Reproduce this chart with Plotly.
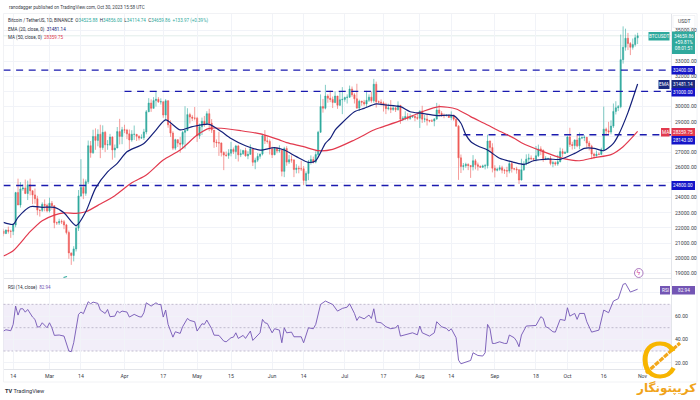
#!/usr/bin/env python3

import pandas as pd
import plotly.graph_objects as go

#######################################
###              data               ###
#######################################
opens = [
    21800, 21630, 21860, 21780, 21780, 22200, 24330, 23520, 24570, 24630, 24270, 24840, 24450, 24180, 23930, 23180, 23160, 23560, 23490,
    23130, 23630, 23470, 22350, 22340, 22430, 22410, 22200, 21700, 20360, 20190, 20620, 21990, 24110, 24670, 24280, 25050, 27420, 26960, 28030, 27770, 28170, 27300, 28300, 27480, 27490, 27990, 27140, 27270, 28350, 28030,
    28470, 28450, 28200, 27800, 28170, 28170, 28040, 27920, 27950, 28330, 29650, 30230, 29880, 30390, 30480, 30310, 30320, 29440, 30380, 28800, 28250, 27260, 27820, 27590, 27520, 28300, 28420, 29470, 29310, 29230,
    29230, 28070, 28670, 29030, 28850, 29530, 28900, 28450, 27660, 27620, 27600, 26970, 26800, 26780, 26930, 27170, 27030, 27400, 26820, 26890, 27100, 26750, 26850, 27220, 26330, 26470, 26720, 26870, 28080, 27740, 27700,
    27210, 26820, 27250, 27070, 27120, 25730, 27230, 26340, 26500, 26480, 25850, 25940, 25900, 25900, 25130, 25590, 26340, 26510, 26340, 26840, 28310, 30000, 29890, 30690, 30550, 30470, 30270, 30690, 30080, 30450,
    30470, 30590, 30620, 31150, 30770, 30510, 29900, 30350, 30290, 30170, 30410, 30620, 30380, 31470, 30320, 30290, 30230, 30140, 29860, 29910, 29800, 29910, 29790, 30080, 29170, 29230, 29350, 29210, 29320, 29360, 29270,
    29230, 29700, 29170, 29180, 29090, 29050, 29050, 29180, 29770, 29560, 29430, 29400, 29420, 29280, 29400, 29170, 28700, 26620, 26050, 26100, 26190, 26120, 26040, 26430, 26160, 26060, 26000, 26090, 26100, 27730, 27300,
    25940, 25800, 25870, 25970, 25810, 25780, 25750, 26240, 25900, 25890, 25830, 25160, 25840, 26220, 26530, 26600, 26570, 26530, 26760, 27210, 27130, 26570, 26580, 26580, 26250, 26300, 26220, 26370, 27030, 26910,
    26970, 27990, 27500, 27430, 27790, 27410, 27930, 27950, 27970, 27590, 27390, 26870, 26760, 26860, 26850, 27150, 28510, 28400, 28320, 28710, 29680, 29920, 29990, 33090, 33900, 34500, 34150, 33900, 34090, 34525.88,
]
highs = [
    21950, 21900, 22090, 21890, 22320, 24380, 25250, 25020, 24880, 25190, 25120, 25250, 24480, 24600, 24120, 23210, 23690, 23880, 23600,
    24000, 23780, 23480, 22420, 22610, 22560, 22530, 22270, 21830, 20370, 20800, 22170, 24500, 26530, 25250, 25200, 27760, 27730, 28470, 28560, 28500, 28800, 28760, 28400, 27790, 28200, 28040, 27500, 28650, 29190, 28660,
    28800, 28530, 28490, 28440, 28750, 28190, 28100, 28170, 28530, 29770, 30550, 30470, 30620, 31000, 30620, 30540, 30320, 30490, 30410, 29090, 28370, 27880, 27820, 28000, 28400, 30020, 29890, 29590, 29450, 29970,
    29320, 28880, 29270, 29380, 29690, 29850, 29170, 28450, 27830, 28330, 27630, 27050, 27040, 27190, 27670, 27300, 27480, 27480, 27180, 27150, 27280, 27060, 27500, 27220, 26630, 26930, 26900, 28200, 28450, 28050, 27830,
    27350, 27300, 27330, 27450, 27140, 27350, 27390, 26810, 26780, 26530, 26200, 26100, 26430, 26080, 25730, 26480, 26780, 26700, 27050, 28400, 30800, 30500, 31430, 30810, 31050, 30660, 31000, 30700, 31000, 31280,
    30650, 30800, 31380, 31320, 30880, 31500, 30450, 30380, 30440, 31030, 30800, 30990, 31820, 31640, 30400, 30470, 30340, 30250, 30190, 30420, 30050, 29990, 30340, 30100, 29370, 29690, 29570, 29530, 29410, 29450, 29530,
    29740, 30050, 29440, 29500, 29100, 29170, 29240, 30240, 30130, 29700, 29540, 29480, 29450, 29680, 29480, 29230, 28780, 26840, 26280, 26300, 26260, 26130, 26800, 26550, 26310, 26120, 26170, 26220, 28140, 27760, 27580,
    26130, 25970, 26130, 26100, 25900, 26030, 26440, 26430, 25950, 26030, 25880, 26560, 26400, 26850, 26890, 26780, 26620, 27400, 27490, 27380, 27160, 26730, 26620, 26740, 26430, 26390, 26820, 27290, 27230, 27080,
    28070, 28600, 27680, 27840, 28120, 28290, 28030, 28110, 27990, 27740, 27480, 26950, 27100, 26980, 27290, 30000, 28610, 28990, 29090, 30200, 30350, 30100, 34740, 35280, 35130, 34850, 34250, 34480, 34740, 34856,
]
lows = [
    21450, 21600, 21630, 21350, 21530, 22050, 23500, 23340, 24450, 24230, 23840, 24150, 23570, 23600, 22840, 22750, 23060, 23100, 23030,
    23020, 23200, 21980, 22200, 22200, 22260, 21920, 21580, 19970, 19570, 19800, 20450, 21800, 24050, 23900, 24120, 24900, 26630, 26880, 27150, 27380, 26600, 27150, 27000, 27150, 27400, 26500, 26630, 27250, 27500, 27520,
    28250, 27850, 27200, 27680, 27800, 27730, 27770, 27880, 27800, 28170, 29640, 29650, 29870, 30000, 30240, 30130, 29260, 29100, 28600, 28000, 27130, 27130, 27330, 26950, 27200, 27230, 28380, 28880, 29050, 29090,
    27670, 27870, 28120, 28670, 28800, 28380, 28260, 27280, 27330, 26750, 26710, 25810, 26690, 26560, 26720, 26870, 26550, 26380, 26670, 26820, 26700, 26530, 26820, 26080, 25870, 26340, 26560, 26780, 27530, 27560, 26840,
    26610, 26800, 26920, 26960, 25400, 25350, 26100, 26210, 26300, 25350, 25600, 25600, 25750, 24820, 24800, 25150, 26180, 26250, 26260, 26650, 28260, 29600, 29810, 30250, 30290, 29900, 30220, 29850, 30040, 29500,
    30320, 30200, 30570, 30640, 30200, 29850, 29700, 30050, 30050, 29950, 30300, 30250, 30250, 29930, 30250, 30070, 29670, 29500, 29750, 29570, 29720, 29640, 29740, 28860, 29050, 29100, 29080, 29120, 29250, 29030, 29120,
    28590, 28920, 28960, 28750, 28960, 28980, 28700, 29120, 29350, 29320, 29230, 29350, 29250, 29100, 29060, 28700, 25170, 25620, 25800, 25970, 25810, 25300, 25790, 25860, 25780, 25980, 25960, 25860, 25920, 27030, 25660,
    25330, 25730, 25770, 25600, 25560, 25350, 25600, 25650, 25800, 25580, 24900, 25130, 25760, 26130, 26220, 26470, 26400, 26380, 26670, 26800, 26360, 26470, 26500, 26130, 26000, 26100, 26100, 26320, 26660, 26890,
    26950, 27340, 27170, 27200, 27320, 27180, 27850, 27720, 27260, 27110, 26530, 26560, 26700, 26800, 26810, 27130, 28080, 28150, 28170, 28590, 29480, 29700, 29890, 32830, 33680, 33720, 33390, 33750, 33950, 34114.74,
]
closes = [
    21630, 21860, 21780, 21780, 22200, 24330, 23520, 24570, 24630, 24270, 24840, 24450, 24180, 23930, 23180, 23160, 23560, 23490, 23130,
    23630, 23470, 22350, 22340, 22430, 22410, 22200, 21700, 20360, 20190, 20620, 21990, 24110, 24670, 24280, 25050, 27420, 26960, 28030, 27770, 28170, 27300, 28300, 27480, 27490, 27990, 27140, 27270, 28350, 28030, 28470,
    28450, 28200, 27800, 28170, 28170, 28040, 27920, 27950, 28330, 29650, 30230, 29880, 30390, 30480, 30310, 30320, 29440, 30380, 28800, 28250, 27260, 27820, 27590, 27520, 28300, 28420, 29470, 29310, 29230, 29230,
    28070, 28670, 29030, 28850, 29530, 28900, 28450, 27660, 27620, 27600, 26970, 26800, 26780, 26930, 27170, 27030, 27400, 26820, 26890, 27100, 26750, 26850, 27220, 26330, 26470, 26720, 26870, 28080, 27740, 27700, 27210,
    26820, 27250, 27070, 27120, 25730, 27230, 26340, 26500, 26480, 25850, 25940, 25900, 25900, 25130, 25590, 26340, 26510, 26340, 26840, 28310, 30000, 29890, 30690, 30550, 30470, 30270, 30690, 30080, 30450, 30470,
    30590, 30620, 31150, 30770, 30510, 29900, 30350, 30290, 30170, 30410, 30620, 30380, 31470, 30320, 30290, 30230, 30140, 29860, 29910, 29800, 29910, 29790, 30080, 29170, 29230, 29350, 29210, 29320, 29360, 29270, 29230,
    29700, 29170, 29180, 29090, 29050, 29050, 29180, 29770, 29560, 29430, 29400, 29420, 29280, 29400, 29170, 28700, 26620, 26050, 26100, 26190, 26120, 26040, 26430, 26160, 26060, 26000, 26090, 26100, 27730, 27300, 25940,
    25800, 25870, 25970, 25810, 25780, 25750, 26240, 25900, 25890, 25830, 25160, 25840, 26220, 26530, 26600, 26570, 26530, 26760, 27210, 27130, 26570, 26580, 26580, 26250, 26300, 26220, 26370, 27030, 26910, 26970,
    27990, 27500, 27430, 27790, 27410, 27930, 27950, 27970, 27590, 27390, 26870, 26760, 26860, 26850, 27150, 28510, 28400, 28320, 28710, 29680, 29920, 29990, 33090, 33900, 34500, 34150, 33900, 34090, 34530, 34659.86,
]

# indicator vertices: candle number, value
ema_idx = [0, 4, 6, 11, 16, 21, 25, 30, 34, 38, 43, 47, 51, 58, 63, 67, 73, 78, 85, 90, 94, 100, 106, 112, 116, 121, 126, 129, 133, 135, 137, 139, 145, 149, 154, 158, 164, 168, 173, 179, 186, 189, 191, 193, 196, 200, 205, 211, 215, 219, 225, 230, 236, 240, 244, 248, 252, 254, 258, 262]
ema_vals = [22370, 22240, 22700, 23400, 23360, 23360, 23000, 22150, 23070, 24610, 25700, 26260, 27020, 27570, 28450, 29115, 28460, 28675, 28830, 28350, 27900, 27420, 27135, 27290, 27135, 26700, 26320, 26430, 27575, 27900, 28450, 28785, 29660, 29880, 30170, 30100, 29990, 29660, 29550, 29400, 29400, 28900, 28150, 27700, 27400, 27135, 26590, 26320, 26190, 26430, 26540, 26520, 26915, 27245, 27245, 27090, 27575, 28100, 29600, 31481.14]

ma_idx = [0, 4, 11, 16, 21, 25, 30, 34, 40, 46, 53, 59, 66, 73, 80, 85, 90, 98, 107, 114, 117, 124, 130, 136, 145, 153, 156, 164, 173, 180, 187, 193, 200, 204, 211, 214, 223, 231, 238, 244, 251, 256, 262]
ma_vals = [20150, 20500, 21755, 22480, 22850, 23000, 22960, 23070, 23580, 24130, 24980, 25490, 26480, 27135, 28120, 28560, 28570, 28410, 28170, 27800, 27620, 27355, 27090, 27180, 27800, 28450, 28630, 29070, 29660, 29990, 29840, 29335, 28785, 28450, 27910, 27620, 27030, 26590, 26430, 26630, 26830, 27355, 28359.75]

rsi_idx = [0, 1, 3, 4, 5, 6, 7, 8, 9, 10, 12, 13, 14, 15, 16, 18, 19, 20, 21, 23, 25, 26, 27, 28, 29, 31, 32, 33, 35, 36, 37, 39, 40, 42, 43, 44, 46, 47, 48, 49, 51, 52, 54, 56, 57, 58, 59, 61, 63, 64, 65, 66, 67, 68, 70, 71, 73, 74, 76, 77, 79, 80, 82, 83, 84, 86, 87, 89, 91, 92, 94, 95, 96, 97,
           99, 100, 102, 103, 106, 107, 108, 109, 111, 112, 114, 115, 116, 117, 119, 120, 123, 124, 126, 128, 129, 131, 132, 133, 136, 138, 140, 142, 143, 145, 146, 147, 149, 151, 152, 153, 154, 156, 158, 160, 162, 163, 164, 167, 169, 171, 172, 173, 176, 178, 179, 181, 183, 184, 185, 187, 188, 189, 191, 193,
           194, 196, 198, 199, 200, 201, 202, 203, 205, 207, 208, 209, 211, 212, 213, 214, 216, 218, 220, 222, 223, 224, 225, 227, 228, 230, 232, 233, 234, 236, 237, 238, 240, 241, 243, 246, 248, 250, 252, 254, 256, 257, 259, 262]
rsi_vals = [47.1, 48.2, 47.4, 52.8, 68.5, 60.8, 66.2, 66.2, 63.3, 65.6, 59.1, 57.1, 50.5, 50.8, 54.2, 49.9, 54.2, 49.9, 43.4, 43.7, 42.8, 37.1, 30, 29.4, 37.1, 61.4, 63.4, 62, 72.2, 70.5, 71.9, 70.8, 65.1, 62.2, 65.6, 59.4, 59.9, 64.2, 62.8, 64.2, 63.4, 59.1, 61.4, 59.4, 59.1, 62.8, 71.3, 68.5, 71.3, 69.9, 69.9, 59.1, 65.1, 52.8, 41.9, 46.5, 45.1, 50.8, 57.9, 56.2, 55.1, 47.1, 53.4, 52.8, 56.5, 49.1, 43.6, 43.4, 38.5, 37.9, 41.4, 41.9, 45.6, 40.8,
            43.4, 40.8, 47.1, 39.1, 45.6, 57.1, 54.2, 53.6, 45.6, 49.1, 47.9, 37.1, 49.9, 45.6, 46.2, 42.2, 42.2, 37.1, 49.9, 49.1, 52.8, 69.9, 71.3, 72.8, 69.9, 64.2, 66.5, 67.6, 70.5, 62.2, 56.2, 59.4, 57.6, 60.8, 57.9, 66.2, 54.8, 54.2, 50.8, 49.1, 49.9, 52.2, 42.8, 44.2, 45.6, 43.9, 51.4, 45.6, 42.8, 45.6, 55.1, 50.8, 49.4, 47.1, 49.1, 41.4, 22.2, 19.1, 20.8, 21.9,
            28.5, 26.2, 25.7, 28.5, 52.8, 49.1, 36.5, 36.5, 37.9, 36.5, 36.5, 43.7, 41.4, 38.5, 33.7, 43.7, 51.4, 51.9, 51.9, 59.4, 57.9, 50.8, 49.9, 46.5, 46.2, 57.1, 56.2, 67.1, 59.9, 62.2, 57.1, 62.2, 62.2, 55.1, 46.2, 47.9, 65.1, 62.8, 72.8, 74.8, 87.1, 87.9, 80.5, 82.94]

price_ticks = [19000, 20000, 21000, 22000, 23000, 24000, 25000, 26000, 27000, 28000, 29000, 30000, 31000, 32000, 33000, 34000, 35000]
price_labels = ["19000.00", "20000.00", "21000.00", "22000.00", "23000.00", "24000.00", "", "26000.00", "27000.00", "", "29000.00", "30000.00", "", "32000.00", "33000.00", "", "35000.00"]
rsi_ticks = [20, 40, 60, 80]
rsi_labels = ["20.00", "40.00", "60.00", "80.00"]
date_ticks = ["2023-02-14", "2023-03-01", "2023-03-14", "2023-04-01", "2023-04-17", "2023-05-01", "2023-05-15", "2023-06-01", "2023-06-14", "2023-07-01", "2023-07-17", "2023-08-01", "2023-08-14", "2023-09-01", "2023-09-18", "2023-10-01", "2023-10-16", "2023-11-01"]
date_labels = ["14", "Mar", "14", "Apr", "17", "May", "15", "Jun", "14", "Jul", "17", "Aug", "14", "Sep", "18", "Oct", "16", "Nov"]

level_vals = [32400, 31000, 28143, 24800]
level_starts = ["2023-02-10", "2023-04-01", "2023-08-19", "2023-02-10"]

days = pd.date_range("2023-02-10", periods=len(closes))
x_end = "2023-11-12 19:00"

W, H = 700, 400
TEXT = "Roboto, 'Liberation Sans', sans-serif"
TEAL = "#2fa99d"
RED = "#ee5a58"
NAVY = "#14207a"
MA_RED = "#e23a4e"
BLUE = "#1a1aaf"
PURPLE = "#7355b4"

def px(x): return x / W
def py(y): return 1 - y / H

fig = go.Figure()

fig.add_trace(go.Candlestick(
    x=days, open=opens, high=highs, low=lows, close=closes,
    increasing=dict(line=dict(color=TEAL, width=0.6), fillcolor=TEAL),
    decreasing=dict(line=dict(color=RED, width=0.6), fillcolor=RED),
    whiskerwidth=0, xaxis="x", yaxis="y", showlegend=False,
))
for val, start in zip(level_vals, level_starts):
    fig.add_trace(go.Scatter(
        x=[start, x_end], y=[val, val], mode="lines", xaxis="x", yaxis="y", showlegend=False,
        line=dict(color=BLUE, width=1.3, dash="7px,5.6px"),
    ))
fig.add_trace(go.Scatter(
    x=days[ma_idx], y=ma_vals, mode="lines", xaxis="x", yaxis="y", showlegend=False,
    line=dict(color=MA_RED, width=1.2, shape="spline", smoothing=0.7),
))
fig.add_trace(go.Scatter(
    x=days[ema_idx], y=ema_vals, mode="lines", xaxis="x", yaxis="y", showlegend=False,
    line=dict(color=NAVY, width=1.2, shape="spline", smoothing=0.7),
))
fig.add_trace(go.Scatter(
    x=days[rsi_idx], y=rsi_vals, mode="lines", xaxis="x2", yaxis="y2", showlegend=False,
    line=dict(color=PURPLE, width=0.9),
))

shapes = []
annotations = []

def text(x, y, s, size=4.55, color="#2a2e39", anchor="left", **kw):
    annotations.append(dict(
        x=px(x), y=py(y), xref="paper", yref="paper", text=s, showarrow=False,
        xanchor=anchor, yanchor="middle", align=anchor,
        font=dict(family=kw.pop("family", TEXT), size=size, color=color),
        borderpad=0, **kw,
    ))

def tag(x0, x1, y0, y1, s, fill, size=4.7, color="white"):
    shapes.append(dict(type="rect", xref="paper", yref="paper", x0=px(x0), x1=px(x1), y0=py(y0), y1=py(y1),
                       fillcolor=fill, line=dict(width=0), layer="above"))
    text((x0 + x1) / 2, (y0 + y1) / 2, s, size=size, color=color, anchor="center")

# outer frame
shapes.append(dict(type="rect", xref="paper", yref="paper", x0=px(3.5), x1=px(697), y0=py(13.5), y1=py(382),
                   line=dict(color="#edeff3", width=0.8), layer="below"))

# rsi band
shapes.append(dict(type="rect", xref="x2 domain", yref="y2", x0=0, x1=1, y0=30, y1=70,
                   fillcolor="rgba(126,87,194,0.1)", line=dict(width=0), layer="below"))
for lvl in [70, 50, 30]:
    shapes.append(dict(type="line", xref="x2 domain", yref="y2", x0=0, x1=1, y0=lvl, y1=lvl,
                       line=dict(color="#aaa4bb", width=0.7, dash="2px,2px"), layer="below"))

# last price line
shapes.append(dict(type="line", xref="x domain", yref="y", x0=0, x1=1, y0=closes[-1], y1=closes[-1],
                   line=dict(color="rgba(120,170,160,0.22)", width=1), layer="below"))

text(8, 7.5, "ranodagger published on TradingView.com, Oct 30, 2023 15:58 UTC", color="#3a3e49")
green = "<span style='color:%s'>%%s</span>" % TEAL
text(7, 20.5, "Bitcoin / TetherUS, 1D, BINANCE  O" + green % "34525.88" + "  H" + green % "34856.00"
     + "  L" + green % "34114.74" + "  C" + green % "34659.86" + "  " + green % "+133.97 (+0.39%)")
text(7, 29, "EMA (20, close, 0)  <span style='color:%s'>31481.14</span>" % NAVY)
text(7, 37.5, "MA (50, close, 0)  <span style='color:%s'>28359.75</span>" % MA_RED)
text(7, 287, "RSI (14, close)  <span style='color:%s'>82.94</span>" % PURPLE)

# price axis tags
shapes.append(dict(type="rect", xref="paper", yref="paper", x0=px(673), x1=px(695), y0=py(15.5), y1=py(27.5),
                   fillcolor="white", line=dict(color="#e8eaee", width=0.6), layer="above"))
text(684, 21.5, "USDT", size=5, color="#3a3e49", anchor="center")
tag(648.5, 669.5, 32, 40.5, "BTCUSDT", TEAL)
tag(672, 695, 31.5, 54, "34659.86<br>+59.81%<br>08:01:51", TEAL)
tag(671.5, 695, 66, 74.5, "32400.00", "#1414c8")
tag(658.5, 669.5, 80, 89, "EMA", "#1b2a80")
tag(671.5, 695, 80, 88.5, "31481.14", "#1b2a80")
tag(671.5, 695, 88, 96.5, "31000.00", "#1414c8")
tag(661, 669.5, 128, 136.5, "MA", MA_RED)
tag(671.5, 695, 128, 136.5, "28359.75", MA_RED)
tag(671.5, 695, 136, 144.5, "28143.00", "#1414c8")
tag(671.5, 695, 181, 190, "24800.00", "#1414c8")
tag(660, 670, 286, 294.5, "RSI", PURPLE)
tag(672, 695, 286, 294.5, "82.94", PURPLE)

# small chart icons
shapes.append(dict(type="line", xref="paper", yref="paper", x0=px(63.5), x1=px(67), y0=py(277.5), y1=py(276.5),
                   line=dict(color=TEAL, width=1.2), layer="above"))
shapes.append(dict(type="circle", xref="paper", yref="paper", x0=px(634.5), x1=px(643), y0=py(268.5), y1=py(277.5),
                   line=dict(color="#a06bb8", width=0.9), fillcolor="white", layer="above"))
text(638.7, 273, "ϟ", size=7, color="#d0459a", anchor="center", family="DejaVu Sans")

# watermark
text(4, 391, "<b>TV</b> TradingView", size=5.6, color="#2a2e39")

# logo
text(659, 360, "C", size=52, color="#f7b500", anchor="center", family="Liberation Sans")
shapes.append(dict(type="line", xref="paper", yref="paper", x0=px(646), x1=px(680), y0=py(373), y1=py(343),
                   line=dict(color="#f2a71b", width=3.2, dash="5px,1px"), layer="above"))
text(666, 388, "<b>کریپتونگار</b>", size=12, color="#f0a31a", anchor="center", family="DejaVu Sans")

fig.update_layout(
    width=W, height=H, margin=dict(l=0, r=0, t=0, b=0), autosize=False,
    paper_bgcolor="white", plot_bgcolor="white", showlegend=False,
    shapes=shapes, annotations=annotations, hovermode=False,
    xaxis=dict(domain=[px(3.5), px(671)], range=["2023-02-10", x_end], anchor="y", matches="x2",
               rangeslider=dict(visible=False), tickvals=date_ticks, showticklabels=False, ticks="",
               showgrid=True, gridcolor="#f1f3f8", gridwidth=0.7, showline=True, linecolor="#e3e5ea", linewidth=0.8),
    xaxis2=dict(domain=[px(3.5), px(671)], range=["2023-02-10", x_end], anchor="y2",
                tickvals=date_ticks, ticktext=date_labels, tickangle=0, ticks="", ticklabelstandoff=2,
                tickfont=dict(family=TEXT, size=5.2, color="#3a3e49"),
                showgrid=True, gridcolor="#f1f3f8", gridwidth=0.7, showline=True, linecolor="#e3e5ea", linewidth=0.8),
    yaxis=dict(domain=[py(278), py(14)], range=[18705, 36096], side="right", anchor="x",
               tickvals=price_ticks, ticktext=price_labels, ticks="", ticklabelstandoff=2,
               tickfont=dict(family=TEXT, size=5.2, color="#3a3e49"),
               showgrid=True, gridcolor="#f1f3f8", gridwidth=0.7, zeroline=False, showline=True, linecolor="#e3e5ea", linewidth=0.8),
    yaxis2=dict(domain=[py(369), py(279)], range=[14.6, 91.7], side="right", anchor="x2",
                tickvals=rsi_ticks, ticktext=rsi_labels, ticks="", ticklabelstandoff=2,
                tickfont=dict(family=TEXT, size=5.2, color="#3a3e49"),
                showgrid=True, gridcolor="#f1f3f8", gridwidth=0.7, zeroline=False, showline=True, linecolor="#e3e5ea", linewidth=0.8),
)

# the page's default body margin would push the figure off the window
fig.write_html("out.html", config=dict(displayModeBar=False),
               post_script="document.body.style.margin='0';document.body.style.overflow='hidden';")
